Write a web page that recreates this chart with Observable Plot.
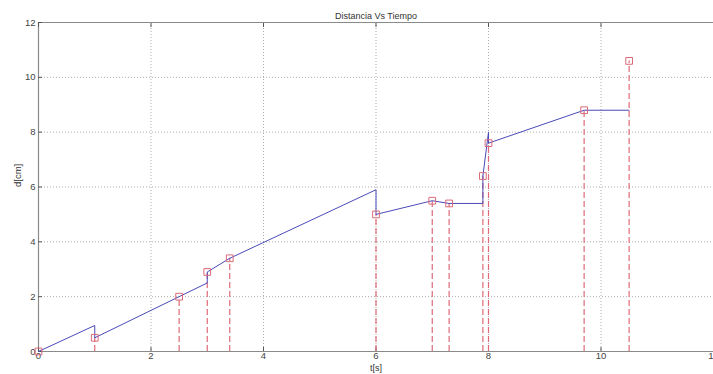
<!DOCTYPE html>
<html><head><meta charset="utf-8">
<script src="https://cdn.jsdelivr.net/npm/d3@7"></script>
<script src="https://cdn.jsdelivr.net/npm/@observablehq/plot@0.6"></script>
<style>body{margin:0;background:#fff}svg{display:block}</style>
</head><body><div id="chart"></div>
<script>
// stem samples (red markers)
const sampleT = [0, 1, 2.5, 3, 3.4, 6, 7, 7.3, 7.9, 8.0, 9.7, 10.5];
const sampleD = [0, 0.5, 2.0, 2.9, 3.4, 5.0, 5.5, 5.4, 6.4, 7.6, 8.8, 10.6];
// blue trajectory
const lineT = [0, 1, 1, 2.5, 3, 3, 3.4, 6, 6, 7, 7.3, 7.9, 7.9, 8.0, 8.0, 9.7, 10.5];
const lineD = [0, 0.95, 0.5, 2.0, 2.5, 2.9, 3.4, 5.9, 5.0, 5.5, 5.4, 5.4, 6.4, 8.0, 7.6, 8.8, 8.8];
const tickVals = [0, 2, 4, 6, 8, 10, 12];
const gridVals = [2, 4, 6, 8, 10];
const title = "Distancia Vs Tiempo";
const xLabel = "t[s]";
const yLabel = "d[cm]";

const samples = sampleT.map((t, i) => ({t, d: sampleD[i]}));
const line = lineT.map((t, i) => ({t, d: lineD[i]}));

const font = "Liberation Sans, Arial, sans-serif";
const frameColor = "#8a8a8a";
const red = "#dc6a78";

const chart = Plot.plot({
  width: 713,
  height: 374,
  marginLeft: 38,
  marginRight: 0,
  marginTop: 22,
  marginBottom: 23,
  style: {fontFamily: font, fontSize: "9.5px", color: "#444", background: "#fff"},
  x: {domain: [0, 12]},
  y: {domain: [0, 12]},
  marks: [
    Plot.gridX(gridVals, {stroke: "#999", strokeOpacity: 0.8, strokeDasharray: "1,2"}),
    Plot.gridY(gridVals, {stroke: "#999", strokeOpacity: 0.8, strokeDasharray: "1,2"}),
    Plot.ruleY([0, 12], {stroke: frameColor, strokeWidth: 1.2}),
    Plot.ruleX([0], {stroke: frameColor, strokeWidth: 1.2}),
    Plot.axisX(tickVals, {tickSize: -4, tickFormat: () => "", stroke: "#555", label: null}),
    Plot.axisX(tickVals, {anchor: "top", tickSize: -4, tickFormat: () => "", stroke: "#555", label: null}),
    Plot.axisY(tickVals, {tickSize: -4, tickFormat: () => "", stroke: "#555", label: null}),
    Plot.axisX(tickVals, {tickSize: 0, tickPadding: 1, label: null, fill: "#444"}),
    Plot.axisY(tickVals, {tickSize: 0, tickPadding: 3, label: null, fill: "#444"}),
    Plot.ruleX(samples, {x: "t", y1: 0, y2: "d", stroke: red, strokeWidth: 1.2, strokeDasharray: "6,3"}),
    Plot.line(line, {x: "t", y: "d", stroke: "#4a4ab8", strokeWidth: 1, curve: "linear"}),
    Plot.dot(samples, {x: "t", y: "d", symbol: "square", r: 3.8, stroke: red, strokeWidth: 1, fill: "none"}),
    Plot.text([title], {frameAnchor: "top", dy: -10, fill: "#333", fontSize: 9}),
    Plot.text([xLabel], {frameAnchor: "bottom", dy: 19, fill: "#333", fontSize: 9}),
    Plot.text([yLabel], {frameAnchor: "left", dx: -21, rotate: -90, fill: "#333", fontSize: 9.5})
  ]
});
document.getElementById("chart").appendChild(chart);
</script></body></html>
